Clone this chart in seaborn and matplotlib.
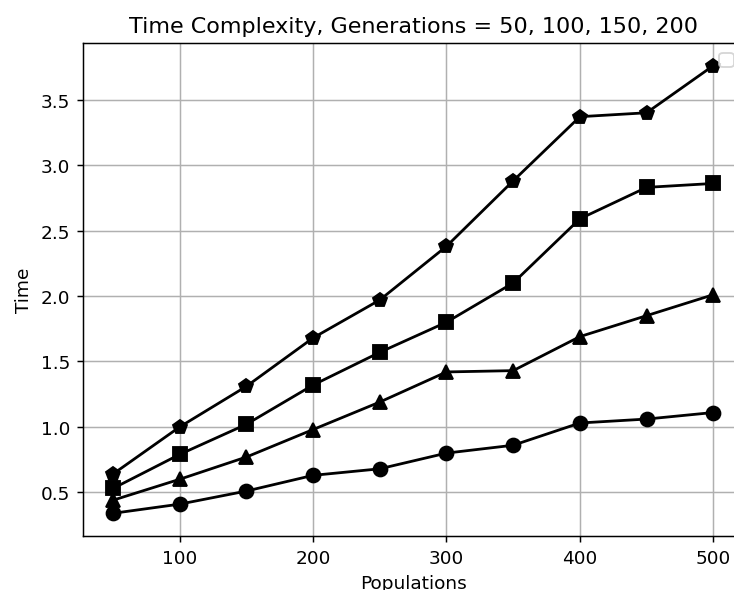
import numpy as np
import pandas as pd
import matplotlib
matplotlib.use("Agg")
import matplotlib.pyplot as plt
import seaborn as sns

populations = [50, 100, 150, 200, 250, 300, 350, 400, 450, 500]
time_gen50 = [0.34, 0.41, 0.51, 0.63, 0.68, 0.80, 0.86, 1.03, 1.06, 1.11]
time_gen100 = [0.44, 0.60, 0.77, 0.98, 1.19, 1.42, 1.43, 1.69, 1.85, 2.01]
time_gen150 = [0.53, 0.79, 1.02, 1.32, 1.57, 1.80, 2.10, 2.59, 2.83, 2.86]
time_gen200 = [0.64, 1.00, 1.31, 1.68, 1.97, 2.38, 2.88, 3.37, 3.40, 3.76]

series = [time_gen50, time_gen100, time_gen150, time_gen200]
markers = ['o', '^', 's', 'p']

# original was rendered larger and cropped, so the axes run past the right edge
fig = plt.figure(figsize=(5.5125, 4.4325), dpi=133.333)
ax = fig.add_axes([0.1129, 0.0919, 0.8984, 0.8332])

for values, m in zip(series, markers):
    sns.lineplot(x=populations, y=values, marker=m, color='black',
                 markeredgecolor='black', markersize=7.5, markeredgewidth=1,
                 linewidth=1.5, ax=ax)

ax.set_title('Time Complexity, Generations = 50, 100, 150, 200')
ax.set_xlabel('Populations')
ax.set_ylabel('Time')
ax.grid(True)
ax.legend(handles=[])

fig.savefig('out.png', dpi=133.333)
